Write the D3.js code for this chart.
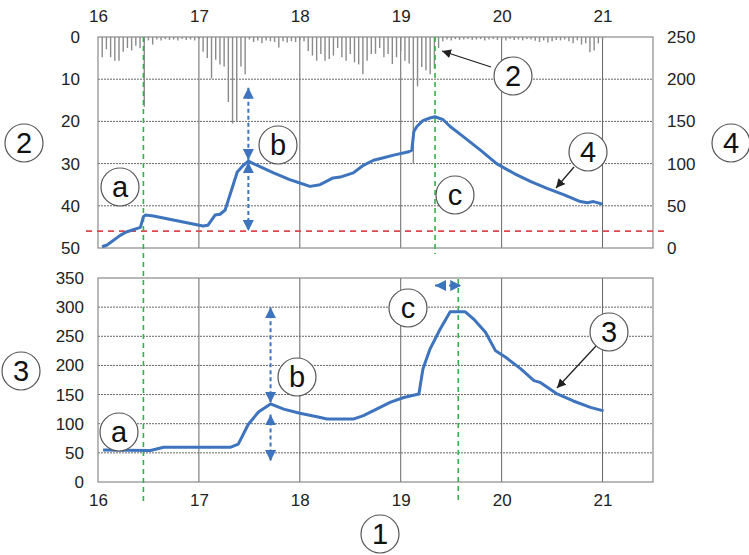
<!DOCTYPE html>
<html>
<head>
<meta charset="utf-8">
<script src="https://cdn.jsdelivr.net/npm/d3@7"></script>
<style>
  body { margin: 0; background: #fff; }
  svg { display: block; }
  text { font-family: "Liberation Sans", Arial, sans-serif; }
</style>
</head>
<body>
<svg id="chart" width="749" height="555"></svg>
<script>
// ---- data ------------------------------------------------------------
const dayTicks = [16, 17, 18, 19, 20, 21];
const rainTicks = [0, 10, 20, 30, 40, 50];
const levelTicks = [0, 50, 100, 150, 200, 250];
const flowTicks = [0, 50, 100, 150, 200, 250, 300, 350];

// hourly rainfall (2), starting at day 16 00:00
const rainStart = 16;
const rainHourly = [
  0, 4.8, 2.9, 4.8, 5.6, 5.6, 3.5, 2.6, 3.2, 2.1, 2.6, 16.5,
  0.8, 1.8, 0.6, 0.8, 0.5, 0.7, 0.6, 0.8, 0.5, 0.7, 0.6, 0.8, 0.5,
  3.5, 5.0, 9.8, 5.4, 6.5, 7.0, 15.4, 20.5, 20.0, 7.0, 8.8,
  0.6, 1.2, 0.8, 1.5, 0.8, 1.0, 1.2, 2.5, 1.0, 1.3, 1.0, 1.2, 0.8,
  1.0, 3.3, 4.4, 5.6, 4.0, 5.6, 5.2, 4.4, 2.6, 4.8, 5.6, 4.0, 6.0, 6.5, 8.8, 5.6, 4.0,
  4.0, 2.6, 4.8, 4.0, 6.4, 4.8, 3.3, 5.6, 6.3, 30.0, 11.7, 7.1, 7.9, 8.8, 7.4, 2.6,
  1.0, 0.6, 0.8, 0.5, 0.7, 0.6, 0.5, 0.7, 0.6, 0.5, 0.8, 0.6, 0.5, 0.7, 0.6,
  0.8, 0.5, 0.7, 0.6, 0.8, 0.5, 0.6, 0.9, 1.2, 0.8, 1.3, 1.0, 0.7, 0.8, 0.6,
  1.0, 1.5, 0.8, 1.8, 1.5, 3.6, 3.2, 1.5, 0.6
];

// series (4), right axis of the upper panel
const levelDays = [16.04, 16.09, 16.22, 16.28, 16.42, 16.45, 16.47, 16.55, 17.04, 17.09,
  17.16, 17.21, 17.26, 17.38, 17.44, 17.49, 17.54, 17.74, 17.9, 18.0, 18.1, 18.2,
  18.33, 18.4, 18.53, 18.63, 18.73, 18.83, 18.93, 19.08, 19.11, 19.13, 19.16, 19.22,
  19.29, 19.34, 19.42, 19.49, 19.62, 19.79, 19.95, 20.12, 20.29, 20.45, 20.62,
  20.78, 20.85, 20.91, 21.0];
const levelValues = [1.5, 3.5, 15, 19, 24.5, 37, 39, 38, 26, 27,
  39, 40, 45, 90, 98, 103, 100, 89, 81, 77, 73, 75,
  83, 84, 89, 98, 104, 107, 110, 114, 116, 138, 144, 151,
  154, 155.5, 152, 144, 132, 116, 100, 88.5, 78.6, 70.7, 63,
  55, 53.7, 55, 52];
const levelThreshold = 20;

// series (3), lower panel
const flowDays = [16.05, 16.52, 16.65, 17.31, 17.39, 17.49, 17.59, 17.71, 17.84, 18.0,
  18.17, 18.27, 18.53, 18.63, 18.76, 18.9, 19.03, 19.18, 19.22, 19.29, 19.39,
  19.49, 19.64, 19.72, 19.84, 19.94, 20.04, 20.19, 20.32, 20.38, 20.55, 20.71,
  20.88, 21.01];
const flowValues = [55, 54, 59.5, 59.5, 65, 99, 120, 134, 125, 118,
  112, 108, 108, 114, 125, 137, 145, 151, 194, 228, 262,
  292, 292, 280, 257, 225, 214, 194, 174, 171, 151, 139,
  128, 122];

// event markers (days)
const eventStart = 16.45;
const levelPeakDay = 19.34;
const flowPeakDay = 19.57;

// ---- scales ----------------------------------------------------------
const x = d3.scaleLinear().domain([16, 21.5]).range([98, 653]);
const yRain = d3.scaleLinear().domain([0, 50]).range([37, 248]);
const yLevel = d3.scaleLinear().domain([0, 250]).range([248, 37]);
const yFlow = d3.scaleLinear().domain([0, 350]).range([482, 278]);

const svg = d3.select("#chart");
svg.append("rect").attr("width", 749).attr("height", 555).attr("fill", "#fff");

const defs = svg.append("defs");
function arrowMarker(id, color, size) {
  defs.append("marker")
    .attr("id", id)
    .attr("viewBox", "0 0 10 10")
    .attr("refX", 10).attr("refY", 5)
    .attr("markerWidth", size).attr("markerHeight", size)
    .attr("markerUnits", "userSpaceOnUse")
    .attr("orient", "auto-start-reverse")
    .append("path").attr("d", "M0,0 L10,5 L0,10 Z").attr("fill", color);
}
arrowMarker("blueHead", "#3d74bd", 11);
arrowMarker("blackHead", "#222", 9);

const gridColor = "#666";
const frameColor = "#8a8a8a";

// ---- panel frames & grids -------------------------------------------
function grid(yScale, yVals, top, bottom) {
  const g = svg.append("g");
  g.selectAll("line.h").data(yVals).join("line")
    .attr("x1", x.range()[0]).attr("x2", x.range()[1])
    .attr("y1", d => yScale(d)).attr("y2", d => yScale(d))
    .attr("stroke", gridColor).attr("stroke-width", 1)
    .attr("stroke-dasharray", "2,1");
  g.selectAll("line.v").data(dayTicks.slice(1)).join("line")
    .attr("x1", d => x(d)).attr("x2", d => x(d))
    .attr("y1", top).attr("y2", bottom)
    .attr("stroke", gridColor).attr("stroke-width", 1);
  g.append("rect")
    .attr("x", x.range()[0]).attr("y", top)
    .attr("width", x.range()[1] - x.range()[0]).attr("height", bottom - top)
    .attr("fill", "none").attr("stroke", frameColor).attr("stroke-width", 1.2);
}
grid(yRain, [10, 20, 30, 40], yRain(0), yRain(50));
grid(yFlow, [50, 100, 150, 200, 250, 300], yFlow(350), yFlow(0));

// ---- axes -------------------------------------------------------------
function styleAxis(g) {
  g.select(".domain").remove();
  g.selectAll("text").attr("font-size", 17).attr("fill", "#222")
    .attr("font-family", "Liberation Sans, Arial, sans-serif");
}
svg.append("g")
  .call(d3.axisTop(x).tickValues(dayTicks).tickSize(0).tickPadding(0).tickFormat(d3.format("d")))
  .call(styleAxis)
  .selectAll("text").attr("y", 22).attr("dy", 0);
svg.append("g")
  .call(d3.axisBottom(x).tickValues(dayTicks).tickSize(0).tickFormat(d3.format("d")))
  .call(styleAxis)
  .selectAll("text").attr("y", 506).attr("dy", 0);
svg.append("g").attr("transform", "translate(80,0)")
  .call(d3.axisLeft(yRain).tickValues(rainTicks).tickSize(0).tickPadding(0))
  .call(styleAxis);
svg.append("g").attr("transform", "translate(667,0)")
  .call(d3.axisRight(yLevel).tickValues(levelTicks).tickSize(0).tickPadding(0))
  .call(styleAxis);
svg.append("g").attr("transform", "translate(84,0)")
  .call(d3.axisLeft(yFlow).tickValues(flowTicks).tickSize(0).tickPadding(0))
  .call(styleAxis);

// ---- rainfall bars hanging from the top ------------------------------
svg.append("g").selectAll("line").data(rainHourly).join("line")
  .attr("x1", (d, i) => x(rainStart + i / 24)).attr("x2", (d, i) => x(rainStart + i / 24))
  .attr("y1", yRain(0)).attr("y2", d => yRain(d))
  .attr("stroke", "#8a8a8a").attr("stroke-width", 1.4);

// ---- reference lines -------------------------------------------------
svg.append("line")
  .attr("x1", 86).attr("x2", 668)
  .attr("y1", yLevel(levelThreshold)).attr("y2", yLevel(levelThreshold))
  .attr("stroke", "#e0474c").attr("stroke-width", 1.6).attr("stroke-dasharray", "6,5");

const green = { stroke: "#33b24a", width: 1.6, dash: "5,4" };
function vdash(day, y1, y2) {
  svg.append("line").attr("x1", x(day)).attr("x2", x(day)).attr("y1", y1).attr("y2", y2)
    .attr("stroke", green.stroke).attr("stroke-width", green.width)
    .attr("stroke-dasharray", green.dash);
}
vdash(eventStart, yRain(0), 501);
vdash(levelPeakDay, yRain(0), 254);
vdash(flowPeakDay, 279, 501);

// ---- series lines ----------------------------------------------------
const lineColor = "#3d74bd";
const levelLine = d3.line().x(d => x(d[0])).y(d => yLevel(d[1]));
svg.append("path").datum(d3.zip(levelDays, levelValues))
  .attr("d", levelLine).attr("fill", "none")
  .attr("stroke", lineColor).attr("stroke-width", 3).attr("stroke-linejoin", "round");
const flowLine = d3.line().x(d => x(d[0])).y(d => yFlow(d[1]));
svg.append("path").datum(d3.zip(flowDays, flowValues))
  .attr("d", flowLine).attr("fill", "none")
  .attr("stroke", lineColor).attr("stroke-width", 3).attr("stroke-linejoin", "round");

// ---- dashed double arrows (rise magnitude, lag) -----------------------
function blueArrow(x1, y1, x2, y2) {
  svg.append("line").attr("x1", x1).attr("y1", y1).attr("x2", x2).attr("y2", y2)
    .attr("stroke", lineColor).attr("stroke-width", 2).attr("stroke-dasharray", "4,3")
    .attr("marker-start", "url(#blueHead)").attr("marker-end", "url(#blueHead)");
}
const levelPeak = 103, levelRiseDay = 17.49;
blueArrow(x(levelRiseDay), yRain(12), x(levelRiseDay), yLevel(levelPeak) - 1);
blueArrow(x(levelRiseDay), yLevel(levelPeak) + 1, x(levelRiseDay), yLevel(levelThreshold));
const flowPeak = 134, flowRiseDay = 17.71;
blueArrow(x(flowRiseDay), yFlow(300), x(flowRiseDay), yFlow(flowPeak) - 1);
blueArrow(x(flowRiseDay), yFlow(flowPeak - 18), x(flowRiseDay), yFlow(36));
blueArrow(x(19.34), yFlow(337), x(19.6), yFlow(337));

// ---- black pointer arrows -------------------------------------------
function pointer(x1, y1, x2, y2) {
  svg.append("line").attr("x1", x1).attr("y1", y1).attr("x2", x2).attr("y2", y2)
    .attr("stroke", "#222").attr("stroke-width", 1.3)
    .attr("marker-end", "url(#blackHead)");
}
pointer(491, 67, 442, 51);
pointer(574, 167, 556, 188);
pointer(596, 346, 557, 388);

// ---- circled labels --------------------------------------------------
const labels = [
  { t: "2", cx: 24, cy: 143 }, { t: "4", cx: 731, cy: 143 },
  { t: "3", cx: 21, cy: 371 }, { t: "1", cx: 380, cy: 534 },
  { t: "a", cx: 120, cy: 187 }, { t: "b", cx: 278, cy: 145 },
  { t: "c", cx: 455, cy: 195 }, { t: "2", cx: 513, cy: 76 },
  { t: "4", cx: 588, cy: 152 }, { t: "a", cx: 119, cy: 432 },
  { t: "b", cx: 297, cy: 377 }, { t: "c", cx: 408, cy: 308 },
  { t: "3", cx: 609, cy: 332 }
];
const lg = svg.append("g").selectAll("g").data(labels).join("g")
  .attr("transform", d => `translate(${d.cx},${d.cy})`);
lg.append("circle").attr("r", 19).attr("fill", "#fff")
  .attr("stroke", "#555").attr("stroke-width", 1.2);
lg.append("text").text(d => d.t)
  .attr("text-anchor", "middle").attr("dy", "0.36em")
  .attr("font-size", 29).attr("fill", "#111");
</script>
</body>
</html>
